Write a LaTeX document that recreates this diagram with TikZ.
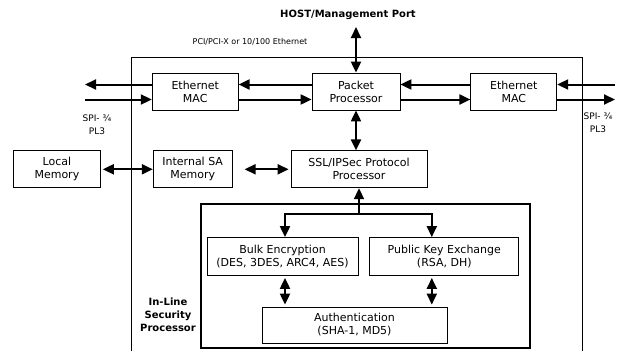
\documentclass[tikz,border=0pt]{standalone}
\usepackage{fontspec}
\setmainfont{DejaVu Sans}
\usepackage{tikz}
\usetikzlibrary{arrows.meta, positioning}
\tikzstyle{block} = [rectangle, draw=black, line width=0.8pt, minimum height=37pt, inner sep=2pt, align=center, font=\fontsize{11}{13}\selectfont]
\tikzstyle{frame} = [draw=black, line width=0.8pt]
\tikzstyle{arrow} = [line width=2pt, ->, >={Triangle[length=11pt, width=10pt]}]
\tikzstyle{darrow} = [arrow, <->]
\tikzstyle{note} = [align=center, font=\fontsize{8}{12}\selectfont]
\tikzstyle{portnote} = [align=center, font=\fontsize{9}{13}\selectfont]

\begin{document}
\begin{tikzpicture}[x=1pt, y=-1pt, node distance=40pt and 70pt]
    \useasboundingbox (0,0) rectangle (627,351);
    % chip border, runs off the bottom
    \draw[frame] (131,351) -- (131,57) -- (582,57) -- (582,351);

    \node[block, minimum width=88pt] (pkt) at (356,91.5) {Packet\\Processor};
    \node[block, minimum width=86pt, left=73pt of pkt] (lmac) {Ethernet\\MAC};
    \node[block, minimum width=86pt, right=70pt of pkt] (rmac) {Ethernet\\MAC};
    \node[block, minimum width=136pt, below=40pt of pkt, xshift=3pt] (ssl) {SSL/IPSec Protocol\\Processor};
    \node[block, minimum width=79pt, left=58pt of ssl] (sam) {Internal SA\\Memory};
    \node[block, minimum width=87pt, left=52pt of sam] (localmem) {Local\\Memory};

    % crypto engine
    \node[frame, line width=1.2pt, minimum width=329pt, minimum height=144pt, inner sep=0pt] (engine) at (365.5,276) {};
    \node[block, minimum width=151pt, minimum height=38pt] (bulk) at (282.5,256.5) {Bulk Encryption\\(DES, 3DES, ARC4, AES)};
    \node[block, minimum width=149pt, minimum height=38pt, right=11pt of bulk] (pke) {Public Key Exchange\\(RSA, DH)};
    \node[block, minimum width=185pt, minimum height=36pt] (auth) at (354.5,325) {Authentication\\(SHA-1, MD5)};

    % labels
    \node[font=\bfseries\fontsize{10}{12}\selectfont] (title) at (348,15) {HOST/Management Port};
    \node[note] (bus) at (250,42) {PCI/PCI-X or 10/100 Ethernet};
    \node[portnote] (spil) at (97,124.5) {SPI- ¾\\PL3};
    \node[portnote] (spir) at (598,123) {SPI- ¾\\PL3};
    \node[align=center, font=\bfseries\fontsize{10}{13}\selectfont] (inline) at (168,315) {In-Line\\Security\\Processor};

    \coordinate (hostport) at (356,27);
    \coordinate (portl) at (85,91.5);
    \coordinate (portr) at (615,91.5);
    \coordinate[below=26pt of ssl] (fork);

    \draw[darrow] (hostport) -- (pkt);
    \draw[arrow] ([yshift=7pt]lmac.west) -- ([yshift=7pt]portl);
    \draw[arrow] ([yshift=-8pt]portl) -- ([yshift=-8pt]lmac.west);
    \draw[arrow] ([yshift=7pt]pkt.west) -- ([yshift=7pt]lmac.east);
    \draw[arrow] ([yshift=-8pt]lmac.east) -- ([yshift=-8pt]pkt.west);
    \draw[arrow] ([yshift=7pt]rmac.west) -- ([yshift=7pt]pkt.east);
    \draw[arrow] ([yshift=-8pt]pkt.east) -- ([yshift=-8pt]rmac.west);
    \draw[arrow] ([yshift=7pt]portr) -- ([yshift=7pt]rmac.east);
    \draw[arrow] ([yshift=-8pt]rmac.east) -- ([yshift=-8pt]portr);
    \draw[darrow] (pkt) -- (pkt |- ssl.north);
    \draw[darrow, shorten <=2pt] (localmem) -- (sam);
    \draw[darrow, shorten <=12pt, shorten >=2pt] (sam) -- (ssl);
    \draw[arrow] (fork) -- (fork |- ssl.south);
    \draw[arrow] (fork) -| ([xshift=2.5pt]bulk.north);
    \draw[arrow] (fork) -| ([xshift=-12.5pt]pke.north);
    \draw[darrow, shorten <=2pt, shorten >=2pt] ([xshift=2.5pt]bulk.south) -- ([xshift=2.5pt]bulk.south |- auth.north);
    \draw[darrow, shorten <=2pt, shorten >=2pt] ([xshift=-12.5pt]pke.south) -- ([xshift=-12.5pt]pke.south |- auth.north);
\end{tikzpicture}
\end{document}
